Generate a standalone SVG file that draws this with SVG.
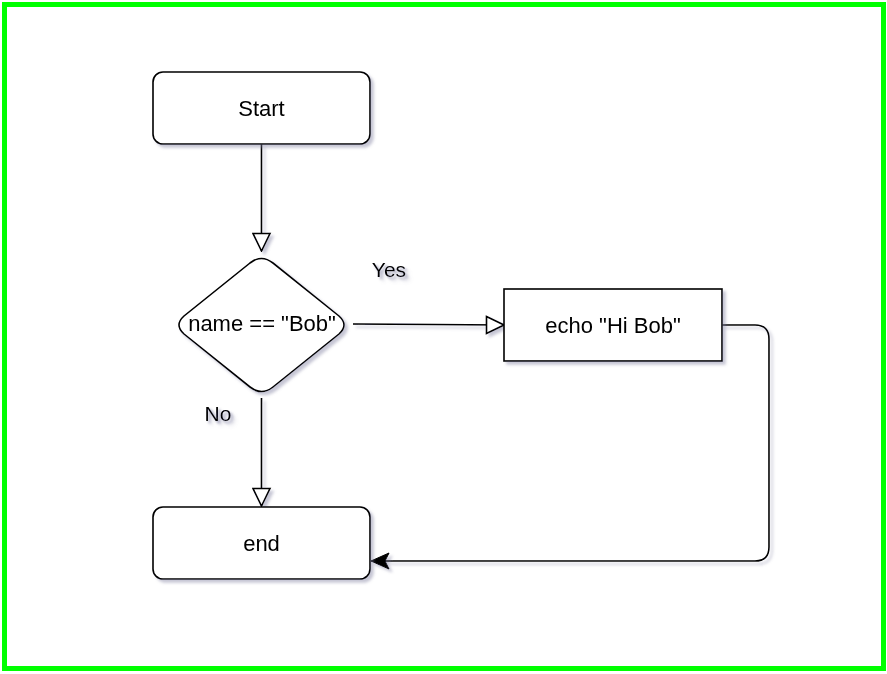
<svg xmlns="http://www.w3.org/2000/svg" width="887" height="674" viewBox="0 0 887 674">
<style>
.node{fill:#ffffff;stroke:#000000;stroke-width:1.6}
.t{font-family:"Liberation Sans",Arial,sans-serif;font-size:22px;fill:#000000;text-anchor:middle}
.lbl{font-family:"Liberation Sans",Arial,sans-serif;font-size:21px;fill:#000000;text-anchor:middle}
.edge{fill:none;stroke:#000000;stroke-width:1.6}
</style>
<defs>
<filter id="sh" filterUnits="userSpaceOnUse" x="0" y="0" width="887" height="674">
<feGaussianBlur in="SourceAlpha" stdDeviation="1.5"/>
<feOffset dx="3" dy="3" result="b"/>
<feFlood flood-color="#8080a0" flood-opacity="0.45"/>
<feComposite in2="b" operator="in"/>
<feMerge><feMergeNode/><feMergeNode in="SourceGraphic"/></feMerge>
</filter>
<filter id="tsh" filterUnits="userSpaceOnUse" x="0" y="0" width="887" height="674">
<feGaussianBlur in="SourceAlpha" stdDeviation="1.2"/>
<feOffset dx="2" dy="2" result="b"/>
<feFlood flood-color="#8080a0" flood-opacity="0.4"/>
<feComposite in2="b" operator="in"/>
<feMerge><feMergeNode/><feMergeNode in="SourceGraphic"/></feMerge>
</filter>
<marker id="open" viewBox="0 0 20 20" refX="19" refY="10" markerWidth="20" markerHeight="20" markerUnits="userSpaceOnUse" orient="auto">
<path d="M1.5,1.5 L19,10 L1.5,18.5 Z" fill="#ffffff" stroke="#000000" stroke-width="1.6"/>
</marker>
<marker id="classic" viewBox="0 0 20 20" refX="19" refY="10" markerWidth="20" markerHeight="20" markerUnits="userSpaceOnUse" orient="auto">
<path d="M1,2 L19,10 L1,18 L5,10 Z" fill="#000000" stroke="#000000" stroke-width="1"/>
</marker>
</defs>
<rect x="4.5" y="4.5" width="879" height="664" fill="#ffffff" stroke="#00ff00" stroke-width="5"/>
<g id="connectors" filter="url(#sh)">
<path class="edge" d="M261.5,144 L261.5,251" marker-end="url(#open)"/>
<path class="edge" d="M353,324 C420,324 440,325 504,325" marker-end="url(#open)"/>
<path class="edge" d="M261.5,398 L261.5,506" marker-end="url(#open)"/>
<path class="edge" d="M722,325 L755,325 Q769,325 769,339 L769,547 Q769,561 755,561 L371,561" marker-end="url(#classic)"/>
<g filter="url(#tsh)">
<text class="lbl" x="389" y="277">Yes</text>
<text class="lbl" x="218" y="421">No</text>
</g>
</g>
<g id="start" filter="url(#sh)">
<rect class="node" x="153" y="72" width="217" height="72" rx="10" ry="10"/>
<text class="t" x="261.5" y="116">Start</text>
</g>
<g id="decision" filter="url(#sh)">
<path class="node" d="M250,263 Q261.5,254 273,263 L339,316 Q349,325 339,334 L273,387 Q261.5,396 250,387 L184,334 Q174,325 184,316 Z"/>
<text class="t" x="262" y="331">name == "Bob"</text>
</g>
<g id="echo" filter="url(#sh)">
<rect class="node" x="504" y="289" width="218" height="72"/>
<text class="t" x="613" y="333">echo "Hi Bob"</text>
</g>
<g id="end" filter="url(#sh)">
<rect class="node" x="153" y="507" width="217" height="72" rx="10" ry="10"/>
<text class="t" x="261.5" y="551">end</text>
</g>
</svg>
